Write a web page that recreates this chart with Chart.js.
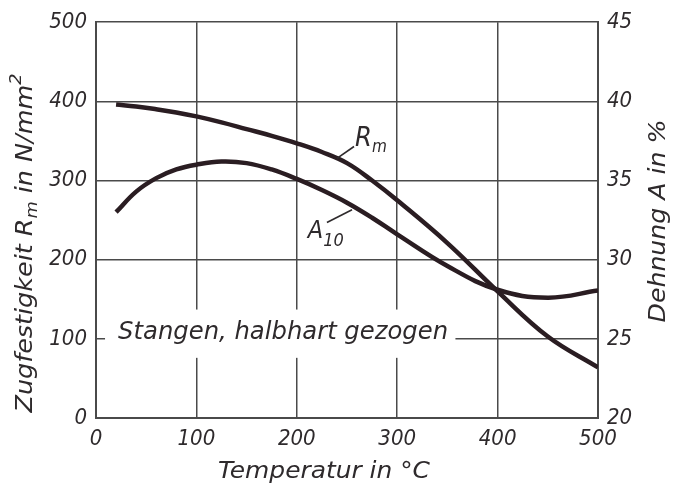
<!DOCTYPE html>
<html><head><meta charset="utf-8">
<script src="https://cdn.jsdelivr.net/npm/chart.js@4/dist/chart.umd.min.js"></script>
<style>html,body{margin:0;padding:0;background:#fff}</style>
</head><body>
<canvas id="c" width="675" height="489" style="display:block;width:675px;height:489px"></canvas>
<script>
// ---- data ----
const temperatures = [20, 40, 60, 80, 100, 125, 150, 175, 200, 225, 250, 275, 300, 350, 400, 450, 500];
const rmValues     = [396, 393.5, 390, 386, 381, 373.5, 365, 356.5, 347, 336, 322, 300, 275, 221, 160, 103, 64];
const a10Values    = [33.0, 34.3, 35.15, 35.7, 36.0, 36.2, 36.1, 35.7, 35.1, 34.4, 33.6, 32.65, 31.6, 29.6, 28.1, 27.6, 28.05];
const xTickValues     = [0, 100, 200, 300, 400, 500];
const leftTickValues  = [0, 100, 200, 300, 400, 500];
const rightTickValues = [20, 25, 30, 35, 40, 45];
const xTitle = "Temperatur in °C";
const leftTitle = [["Zugfestigkeit R", 0], ["m", 1], [" in N/mm", 0], ["2", 2]];
const rightTitle = "Dehnung A in %";
const noteText = "Stangen, halbhart gezogen";

const FONT = "'DejaVu Sans Condensed', 'DejaVu Sans', sans-serif";
const INK = '#2e2a2c';
const CURVE = '#2a1d22';
const GRID = '#4a4a4a';

function drawRich(ctx, parts, x, y, o) {
  ctx.save();
  ctx.translate(x, y);
  if (o.rotate) ctx.rotate(o.rotate);
  let total = 0; const ws = [];
  for (const p of parts) { ctx.font = `italic ${p.size}px ${FONT}`; const w = ctx.measureText(p.text).width; ws.push(w); total += w; }
  const sx = o.width ? o.width / total : 1;
  ctx.scale(sx, 1);
  let cx = o.align === 'center' ? -total / 2 : 0;
  ctx.fillStyle = o.color || INK;
  ctx.textBaseline = 'alphabetic';
  ctx.textAlign = 'left';
  parts.forEach((p, i) => { ctx.font = `italic ${p.size}px ${FONT}`; ctx.fillText(p.text, cx, p.dy || 0); cx += ws[i]; });
  ctx.restore();
}

const annotPlugin = {
  id: 'annot',
  beforeDatasetsDraw(chart, args, opts) {
    const { ctx, scales: { x, y } } = chart;
    const b = opts.box;
    const x0 = x.getPixelForValue(b.x0), x1 = x.getPixelForValue(b.x1);
    const y0 = y.getPixelForValue(b.y0), y1 = y.getPixelForValue(b.y1);
    ctx.save();
    ctx.fillStyle = '#fff';
    ctx.fillRect(x0, y0, x1 - x0, y1 - y0);
    ctx.restore();
    drawRich(ctx, [{ text: noteText, size: 25 }], x.getPixelForValue(opts.note.x), y.getPixelForValue(opts.note.y), { width: opts.note.w });
  },
  afterDatasetsDraw(chart, args, opts) {
    const { ctx, scales: { x, y } } = chart;
    ctx.save();
    ctx.strokeStyle = INK; ctx.lineWidth = 1.6;
    for (const L of opts.leaders) {
      ctx.beginPath();
      ctx.moveTo(x.getPixelForValue(L[0]), y.getPixelForValue(L[1]));
      ctx.lineTo(x.getPixelForValue(L[2]), y.getPixelForValue(L[3]));
      ctx.stroke();
    }
    ctx.restore();
    drawRich(ctx, [{ text: 'R', size: 27 }, { text: 'm', size: 17, dy: 6 }],
      x.getPixelForValue(opts.rmLabel.x), y.getPixelForValue(opts.rmLabel.y), {});
    drawRich(ctx, [{ text: 'A', size: 25 }, { text: '10', size: 18, dy: 8 }],
      x.getPixelForValue(opts.aLabel.x), y.getPixelForValue(opts.aLabel.y), {});
    drawRich(ctx, [{ text: xTitle, size: 23 }], 324, 478, { align: 'center', width: 212 });
    drawRich(ctx, leftTitle.map(([t, k]) => ({ text: t, size: k ? 16 : 23, dy: k === 1 ? 5 : (k === 2 ? -11 : 0) })),
      32, 243, { align: 'center', rotate: -Math.PI / 2, width: 339 });
    drawRich(ctx, [{ text: rightTitle, size: 23 }], 665, 221, { align: 'center', rotate: -Math.PI / 2, width: 203 });
  }
};

const tickFont = { family: FONT, size: 22, style: 'italic' };

new Chart(document.getElementById('c'), {
  type: 'line',
  data: {
    datasets: [
      { label: 'Rm', data: temperatures.map((t, i) => ({ x: t, y: rmValues[i] })), yAxisID: 'y',
        borderColor: CURVE, borderWidth: 4.5, pointRadius: 0, tension: 0.4, fill: false },
      { label: 'A10', data: temperatures.map((t, i) => ({ x: t, y: a10Values[i] })), yAxisID: 'y1',
        borderColor: CURVE, borderWidth: 4.5, pointRadius: 0, tension: 0.4, fill: false }
    ]
  },
  options: {
    responsive: false, animation: false, devicePixelRatio: 1,
    layout: { padding: { top: 17, left: 0, right: 0, bottom: 0 } },
    plugins: {
      legend: { display: false }, tooltip: { enabled: false },
      annot: {
        box: { x0: 9, x1: 358, y0: 137, y1: 76 },
        note: { x: 22, y: 100, w: 330 },
        leaders: [[240, 328, 257, 343], [230, 247, 255, 263]],
        rmLabel: { x: 258, y: 343 },
        aLabel: { x: 211, y: 228 }
      }
    },
    scales: {
      x: {
        type: 'linear', min: 0, max: 500,
        afterBuildTicks: s => { s.ticks = xTickValues.map(v => ({ value: v })); },
        afterFit: s => { s.height = 71; },
        grid: { color: GRID, lineWidth: 1.5, drawTicks: false },
        border: { color: GRID, width: 2 },
        ticks: { font: tickFont, color: INK, padding: 8, maxRotation: 0 }
      },
      y: {
        position: 'left', min: 0, max: 500,
        afterBuildTicks: s => { s.ticks = leftTickValues.map(v => ({ value: v })); },
        afterFit: s => { s.width = 96; },
        grid: { color: GRID, lineWidth: 1.5, drawTicks: false },
        border: { color: GRID, width: 2 },
        ticks: { font: tickFont, color: INK, padding: 9 }
      },
      y1: {
        position: 'right', min: 20, max: 45,
        afterBuildTicks: s => { s.ticks = rightTickValues.map(v => ({ value: v })); },
        afterFit: s => { s.width = 77; },
        grid: { display: false, drawTicks: false },
        border: { color: GRID, width: 2 },
        ticks: { font: tickFont, color: INK, padding: 9 }
      }
    }
  },
  plugins: [annotPlugin]
});
</script>
</body></html>
